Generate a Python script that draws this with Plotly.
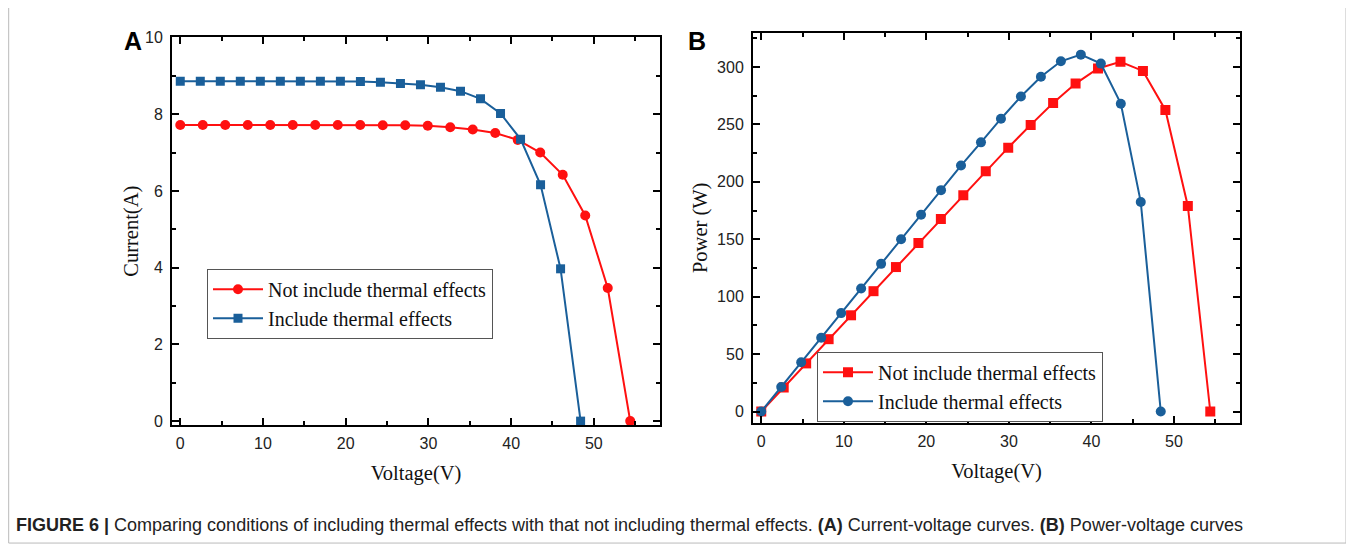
import plotly.graph_objects as go

# ---------------- data ----------------
v_no = [0, 2.72, 5.44, 8.16, 10.88, 13.6, 16.32, 19.04, 21.76, 24.48, 27.2,
        29.92, 32.64, 35.36, 38.08, 40.8, 43.52, 46.24, 48.96, 51.68, 54.4]
i_no = [7.72, 7.72, 7.72, 7.72, 7.72, 7.72, 7.72, 7.72, 7.72, 7.71, 7.71,
        7.70, 7.66, 7.60, 7.51, 7.33, 7.00, 6.42, 5.36, 3.47, 0.0]
p_no = [0, 20.9, 41.9, 63.0, 83.8, 104.8, 125.8, 146.8, 167.6, 188.4, 209.2,
        229.8, 249.6, 268.7, 285.6, 298.8, 304.6, 296.6, 262.6, 179.0, 0]

v_th = [0, 2.42, 4.84, 7.26, 9.68, 12.1, 14.52, 16.94, 19.36, 21.78, 24.2,
        26.62, 29.04, 31.46, 33.88, 36.3, 38.72, 41.14, 43.56, 45.98, 48.4]
i_th = [8.86, 8.86, 8.86, 8.86, 8.86, 8.86, 8.86, 8.86, 8.86, 8.85, 8.83,
        8.80, 8.77, 8.70, 8.60, 8.40, 8.02, 7.35, 6.16, 3.97, 0.0]
p_th = [0, 21.4, 42.9, 64.2, 85.7, 107.2, 128.6, 150.0, 171.4, 192.8, 214.2,
        234.4, 255.0, 274.3, 291.5, 305.0, 310.8, 303.0, 268.1, 182.4, 0]

name_no = "Not include thermal effects"
name_th = "Include thermal effects"
caption_bold = "FIGURE 6 |"
caption_rest = (" Comparing conditions of including thermal effects with that not including "
                "thermal effects. <b>(A)</b> Current-voltage curves. <b>(B)</b> Power-voltage curves")

RED = "#ff1010"
BLUE = "#1a5f9a"
OFF = 8                      # browser body margin
W, H = 1354 - OFF, 550 - OFF


def px(x):
    return (x - OFF) / W


def py(y):
    return 1 - (y - OFF) / H


fig = go.Figure()

# Panel A
fig.add_trace(go.Scatter(x=v_no, y=i_no, mode="lines+markers", name=name_no,
                         line=dict(color=RED, width=2),
                         marker=dict(symbol="circle", size=10, color=RED),
                         xaxis="x", yaxis="y", legend="legend"))
fig.add_trace(go.Scatter(x=v_th, y=i_th, mode="lines+markers", name=name_th,
                         line=dict(color=BLUE, width=2),
                         marker=dict(symbol="square", size=9, color=BLUE),
                         xaxis="x", yaxis="y", legend="legend"))
# Panel B
fig.add_trace(go.Scatter(x=v_no, y=p_no, mode="lines+markers", name=name_no,
                         line=dict(color=RED, width=2),
                         marker=dict(symbol="square", size=10, color=RED),
                         xaxis="x2", yaxis="y2", legend="legend2"))
fig.add_trace(go.Scatter(x=v_th, y=p_th, mode="lines+markers", name=name_th,
                         line=dict(color=BLUE, width=2),
                         marker=dict(symbol="circle", size=10, color=BLUE),
                         xaxis="x2", yaxis="y2", legend="legend2"))

tickfont = dict(family="Liberation Sans, Arial", size=16, color="#222")
titlefont = dict(family="Liberation Serif, Times New Roman", size=20.5, color="#111")
legfont = dict(family="Liberation Serif, Times New Roman", size=20, color="#111")


def xax(domain, anchor):
    return dict(domain=domain, anchor=anchor, range=[-1, 58], dtick=10, tick0=0,
                ticks="inside", ticklen=7, tickwidth=1.5, tickcolor="black",
                minor=dict(ticks="inside", dtick=5, tick0=0, ticklen=4, tickwidth=1.5,
                           tickcolor="black"),
                showline=True, linecolor="black", linewidth=2, mirror="ticks",
                showgrid=False, zeroline=False, tickfont=tickfont, ticklabelstandoff=3,
                title=dict(text="Voltage(V)", font=titlefont, standoff=14))


def yax(domain, anchor, rng, dtick, title, standoff):
    return dict(domain=domain, anchor=anchor, range=rng, dtick=dtick, tick0=0,
                ticks="inside", ticklen=7, tickwidth=1.5, tickcolor="black",
                minor=dict(ticks="inside", dtick=dtick / 2, tick0=0, ticklen=4,
                           tickwidth=1.5, tickcolor="black"),
                showline=True, linecolor="black", linewidth=2, mirror="ticks",
                showgrid=False, zeroline=False, tickfont=tickfont, ticklabelstandoff=4,
                title=dict(text=title, font=titlefont, standoff=standoff))


fig.update_layout(
    width=W, height=H,
    margin=dict(l=0, r=0, t=0, b=0),
    paper_bgcolor="white", plot_bgcolor="white",
    xaxis=xax([px(172), px(660)], "y"),
    yaxis=yax([py(427), py(30)], "x", [-0.1, 10], 2, "Current(A)", 1),
    xaxis2=xax([px(753), px(1240)], "y2"),
    yaxis2=yax([py(425), py(25)], "x2", [-10, 330], 50, "Power (W)", 4),
    legend=dict(x=px(207), y=py(267), xanchor="left", yanchor="top",
                bordercolor="#555", borderwidth=1, bgcolor="white",
                font=legfont, tracegroupgap=0, itemwidth=50),
    legend2=dict(x=px(817), y=py(352), xanchor="left", yanchor="top",
                 bordercolor="#555", borderwidth=1, bgcolor="white",
                 font=legfont, tracegroupgap=0, itemwidth=50),
    showlegend=True,
)

# panel letters
fig.add_annotation(text="<b>A</b>", x=px(122), y=py(34), xref="paper", yref="paper",
                   xanchor="left", yanchor="middle", showarrow=False,
                   font=dict(family="Liberation Sans, Arial", size=25, color="black"))
fig.add_annotation(text="<b>B</b>", x=px(686), y=py(34), xref="paper", yref="paper",
                   xanchor="left", yanchor="middle", showarrow=False,
                   font=dict(family="Liberation Sans, Arial", size=25, color="black"))

# caption
fig.add_annotation(text="<b>" + caption_bold + "</b>" + caption_rest,
                   x=px(14), y=py(530), xref="paper", yref="paper",
                   xanchor="left", yanchor="middle", showarrow=False,
                   font=dict(family="Liberation Sans, Arial", size=18, color="#222"))

# outer frame
fig.add_shape(type="rect", xref="paper", yref="paper",
              x0=0.0005, x1=px(1346), y0=py(548), y1=1.05,
              line=dict(color="#bbb", width=1))

fig.write_html("out.html")
